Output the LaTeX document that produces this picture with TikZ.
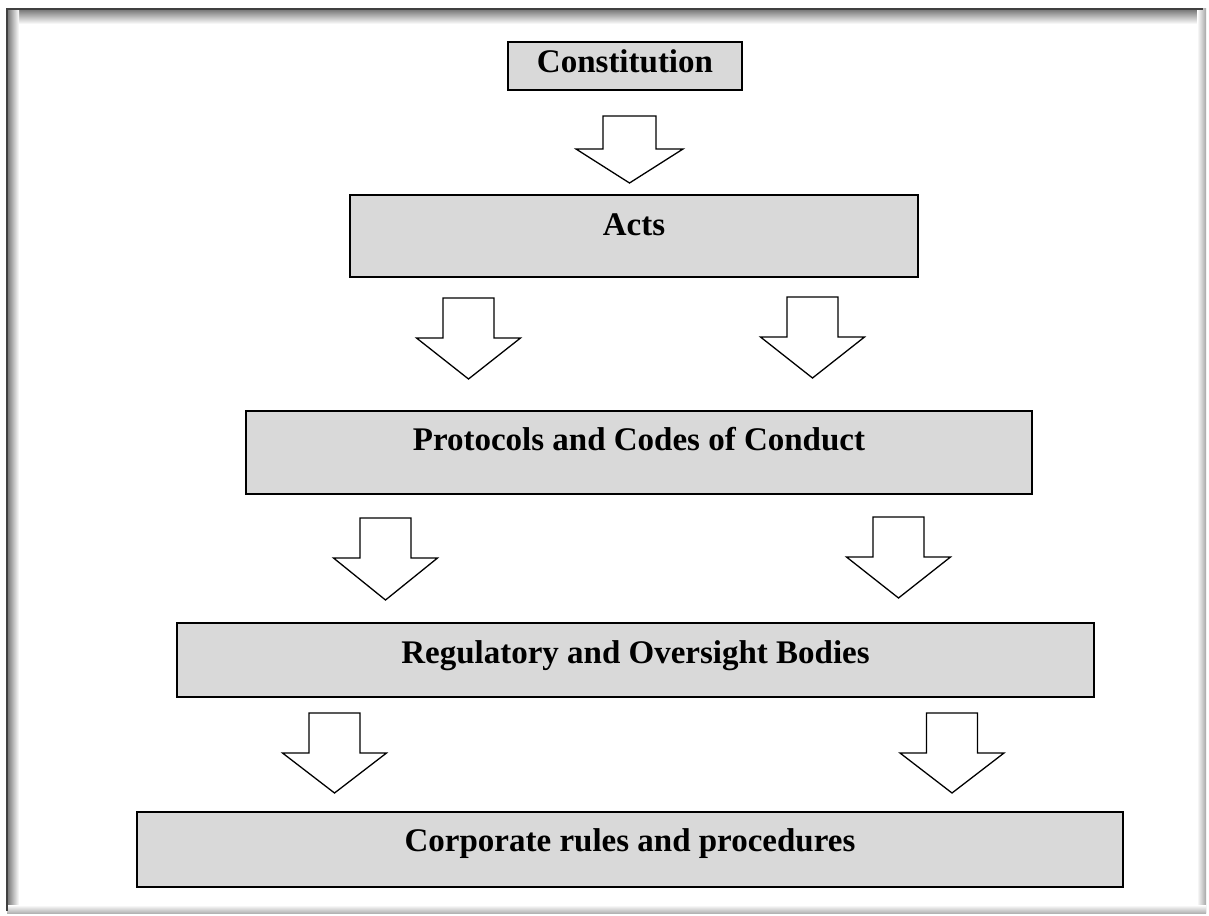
\documentclass[tikz,border=0pt]{standalone}
\usepackage{fontspec}
\setmainfont{Liberation Serif}
\usetikzlibrary{calc}
\definecolor{boxgray}{HTML}{D9D9D9}
\begin{document}
\begin{tikzpicture}[x=1pt,y=-1pt,
  box/.style={draw=black, line width=1.4pt, fill=boxgray, anchor=north west, inner sep=0pt, outer sep=0pt},
  lbl/.style={font=\fontsize{33}{36}\selectfont\bfseries, anchor=base, inner sep=0pt},
  arr/.style={draw=black, line width=1.3pt, fill=white, line join=miter},
  pics/darrow/.style n args={4}{code={\draw[arr] (-#1,0) -- (#1,0) -- (#1,#3) -- (#2,#3) -- (0,#4) -- (-#2,#3) -- (-#1,#3) -- cycle;}}
]
\useasboundingbox (0,0) rectangle (1209,915);
\fill[white] (0,0) rectangle (1209,915);
% frame with shadow
\shade[top color=black!55, bottom color=white] (7,9) rectangle (1203,24);
\shade[left color=black!55, right color=white] (7,9) rectangle (19,911);
\shade[left color=white, right color=black!35] (1197,9) rectangle (1206,912);
\shade[top color=white, bottom color=black!30] (7,905) rectangle (1206,913);
\draw[black!75, line width=2pt] (7,911) -- (7,9) -- (1203,9);

% boxes
\node[box, minimum width=234, minimum height=48] (con) at (508,42) {};
\node[box, minimum width=568, minimum height=82] (acts) at (350,195) {};
\node[box, minimum width=786, minimum height=83] (prot) at (246,411) {};
\node[box, minimum width=917, minimum height=74] (reg) at (177,623) {};
\node[box, minimum width=986, minimum height=75] (corp) at (137,812) {};

% labels
\node[lbl] (tcon) at ($(con.north)+(0,31)$) {Constitution};
\node[lbl] (tacts) at ($(acts.north)+(0,40)$) {Acts};
\node[lbl] (tprot) at ($(prot.north)+(0,39)$) {Protocols and Codes of Conduct};
\node[lbl] (treg) at ($(reg.north)+(0,40)$) {Regulatory and Oversight Bodies};
\node[lbl] (tcorp) at ($(corp.north)+(0,39)$) {Corporate rules and procedures};

% block arrows
\pic at (629.5,116) {darrow={26.5}{53.5}{33}{67}};
\pic at (468.5,298) {darrow={25.5}{52}{40}{81}};
\pic at (812.5,297) {darrow={25.5}{52}{40}{81}};
\pic at (385.5,518) {darrow={25.5}{52}{40}{82}};
\pic at (898.5,517) {darrow={25.5}{52}{40}{81}};
\pic at (334.5,713) {darrow={25.5}{52}{40}{80}};
\pic at (952,713) {darrow={25.5}{52}{40}{80}};
\end{tikzpicture}
\end{document}
